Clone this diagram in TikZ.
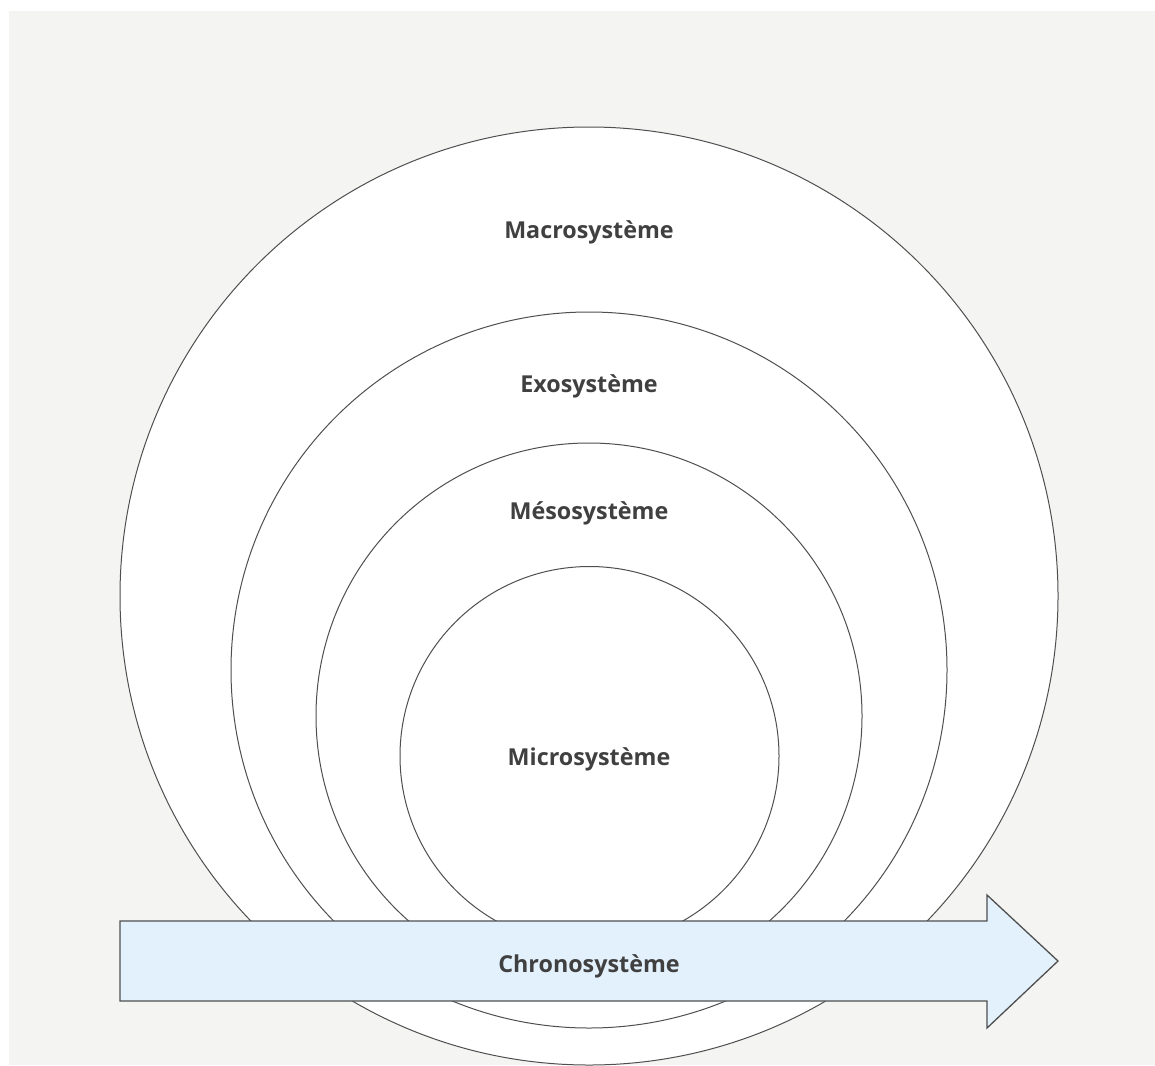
\documentclass[tikz,border=0pt]{standalone}
\usepackage{fontspec}
\setmainfont{Open Sans}
\definecolor{bggray}{HTML}{F4F4F3}
\definecolor{linegray}{HTML}{4F4F4F}
\definecolor{arrowfill}{HTML}{E3F1FC}
\definecolor{txtgray}{HTML}{404040}
\tikzset{
  ring/.style={draw=linegray, line width=1pt, fill=white},
  lbl/.style={text=txtgray, font=\fontsize{23.3}{28}\selectfont\bfseries, inner sep=0pt, anchor=center},
  chrono/.style={draw=linegray, line width=1.3pt, fill=arrowfill, line join=miter}
}
\begin{document}
\begin{tikzpicture}[x=1pt,y=-1pt]
\useasboundingbox (0,0) rectangle (1155,1065);
\fill[white] (0,0) rectangle (1155,1065);
\fill[bggray] (9,11) rectangle (1155,1065);
\begin{scope}
\clip (9,11) rectangle (1155,1065);
\draw[ring] (589,596) circle[radius=469];
\draw[ring] (589,670) circle[radius=358];
\draw[ring] (589,716) circle[radius=273];
\draw[ring] (589.5,756) circle[radius=189.5];
\draw[chrono] (120,921) -- (987,921) -- (987,895) -- (1058,961) -- (987,1028) -- (987,1001) -- (120,1001) -- cycle;
\end{scope}
\node[lbl] (macro) at (589,232) {Macrosystème};
\node[lbl] (exo) at (589,386) {Exosystème};
\node[lbl] (meso) at (589,513) {Mésosystème};
\node[lbl] (micro) at (589,759) {Microsystème};
\node[lbl] (chrono) at (589,966) {Chronosystème};
\end{tikzpicture}
\end{document}
